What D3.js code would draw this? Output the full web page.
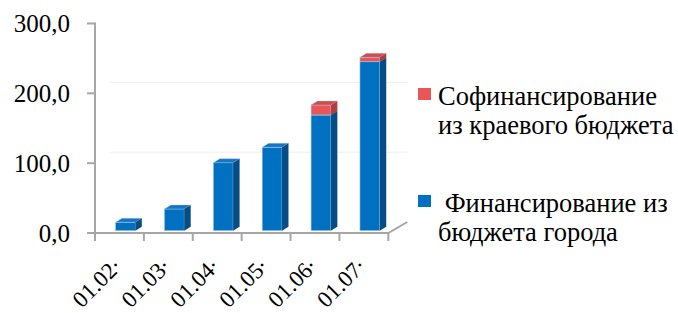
<!DOCTYPE html>
<html><head><meta charset="utf-8">
<script src="https://cdn.jsdelivr.net/npm/d3@7"></script>
<style>body{margin:0;background:#fff}svg{display:block}
text{font-family:"Liberation Serif","Times New Roman","DejaVu Serif",serif}</style>
</head><body>
<svg id="c" width="678" height="313"></svg>
<script>
const categories = ["01.02.", "01.03.", "01.04.", "01.05.", "01.06.", "01.07."];
const cityBudget = [12.0, 31.1, 97.4, 119.4, 165.7, 242.0];
const regionalBudget = [0, 0, 0, 0, 14.3, 6.3];
const yTicks = [0, 100, 200, 300];
const yTickLabels = ["0,0", "100,0", "200,0", "300,0"];
const seriesNames = ["Софинансирование\nиз краевого бюджета", " Финансирование из\nбюджета города"];

const svg = d3.select("#c");
const x = d3.scaleBand().domain(categories).range([95, 388.3]).padding(0);
const y = d3.scaleLinear().domain([0, 300]).range([233, 23.5]);
const axisColor = "#a6a6a6";
const DX = 6.5, DY = 4, lift = 2.3, wallDX = 19, wallDY = 11;

// back wall gridlines
svg.append("g").selectAll("line").data([100, 200]).join("line")
  .attr("x1", 95 + wallDX - 4).attr("x2", 388.3 + wallDX)
  .attr("y1", d => y(d) - wallDY).attr("y2", d => y(d) - wallDY)
  .attr("stroke", "#efefef").attr("stroke-width", 1);

// bars
const stackData = categories.map((c, i) => ({c, segs: [
  {v0: 0, v1: cityBudget[i], col: ["#0070c0", "#1774c2", "#064d86"]},
  {v0: cityBudget[i], v1: cityBudget[i] + regionalBudget[i], col: ["#e95657", "#d44a4b", "#b23d3e"]}
].filter(s => s.v1 > s.v0)}));

const bw = x.bandwidth();
const gBars = svg.append("g");
stackData.forEach(d => {
  const x0 = x(d.c) + bw * 0.42, x1 = x0 + bw * 0.405;
  d.segs.forEach(s => {
    const yb = y(s.v0) - lift, yt = y(s.v1) - lift;
    const g = gBars.append("g");
    g.append("rect").attr("x", x0).attr("y", yt).attr("width", x1 - x0).attr("height", yb - yt)
      .attr("fill", s.col[0]).attr("stroke", "#a9cbea").attr("stroke-width", 0.6);
    g.append("path").attr("d", `M${x0},${yt}L${x0+DX},${yt-DY}L${x1+DX},${yt-DY}L${x1},${yt}Z`)
      .attr("fill", s.col[1]).attr("stroke", "#a9cbea").attr("stroke-width", 0.4);
    g.append("path").attr("d", `M${x1},${yt}L${x1+DX},${yt-DY}L${x1+DX},${yb-DY}L${x1},${yb}Z`)
      .attr("fill", s.col[2]);
  });
});

// y axis
const gy = svg.append("g");
gy.append("line").attr("x1", 95).attr("x2", 95).attr("y1", y(300) - 1).attr("y2", y(0))
  .attr("stroke", axisColor).attr("stroke-width", 2);
gy.selectAll("line.t").data(yTicks).join("line").attr("class", "t")
  .attr("x1", 87).attr("x2", 95).attr("y1", d => y(d)).attr("y2", d => y(d))
  .attr("stroke", axisColor).attr("stroke-width", 2);
gy.selectAll("text").data(yTicks).join("text")
  .attr("x", 70).attr("y", d => y(d) + 8.8).attr("text-anchor", "end")
  .attr("font-size", 25).attr("fill", "#000")
  .text((d, i) => yTickLabels[i]);

// x axis / floor
const gx = svg.append("g");
gx.append("path").attr("d", `M95,${y(0)}L388.3,${y(0)}L${388.3 + wallDX},${y(0) - wallDY}`)
  .attr("fill", "none").attr("stroke", axisColor).attr("stroke-width", 2);
const bounds = categories.map(c => x(c)).concat([x.range()[1]]);
gx.selectAll("line").data(bounds).join("line")
  .attr("x1", d => d).attr("x2", d => d).attr("y1", y(0)).attr("y2", y(0) + 8)
  .attr("stroke", axisColor).attr("stroke-width", 2);
gx.selectAll("text").data(categories).join("text")
  .attr("transform", c => `translate(${x(c) + bw / 2 + 3},268) rotate(-45)`)
  .attr("text-anchor", "end").attr("font-size", 23).attr("fill", "#000")
  .each(function(c) {
    const t = d3.select(this);
    t.append("tspan").text(c.slice(0, -1));
    t.append("tspan").attr("dy", -6).text(c.slice(-1));
  });

// legend
const legendColors = ["#e95657", "#0070c0"];
const legendY = [88, 195];
const gl = svg.append("g");
seriesNames.forEach((name, i) => {
  gl.append("rect").attr("x", 418).attr("y", legendY[i]).attr("width", 13).attr("height", 12)
    .attr("fill", legendColors[i]);
  const lines = name.split("\n");
  lines.forEach((ln, j) => {
    gl.append("text").attr("x", 438).attr("y", legendY[i] + 17 + j * 28.5)
      .attr("font-size", 26.5).attr("fill", "#000")
      .attr("xml:space", "preserve").style("white-space", "pre").text(ln);
  });
});
</script>
</body></html>
